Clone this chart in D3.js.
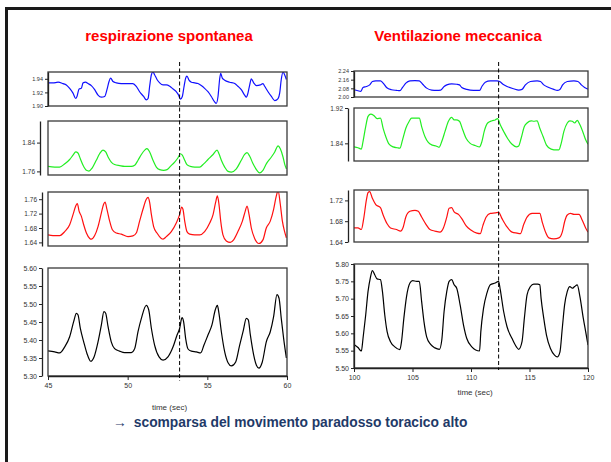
<!DOCTYPE html>
<html>
<head>
<meta charset="utf-8">
<script src="https://cdn.jsdelivr.net/npm/d3@7/dist/d3.min.js"></script>
<style>
  html, body { margin: 0; padding: 0; background: #fff; }
  svg { display: block; font-family: "Liberation Sans", Arial, sans-serif; }
</style>
</head>
<body>
<svg id="chart" width="611" height="462"></svg>
<script>
// ---- Signals: [time (s), value] ----
// Spontaneous breathing, 45-60 s
const spontBlue = [[45.00,1.934],[45.31,1.934],[45.63,1.935],[45.94,1.933],[46.15,1.931],[46.36,1.926],[46.57,1.919],[46.74,1.911],[46.82,1.914],[46.95,1.925],[47.09,1.926],[47.20,1.934],[47.36,1.935],[47.51,1.933],[47.72,1.930],[47.93,1.924],[48.14,1.916],[48.35,1.913],[48.56,1.914],[48.70,1.924],[48.83,1.936],[48.93,1.941],[49.08,1.936],[49.29,1.934],[49.60,1.933],[50.02,1.933],[50.33,1.933],[50.54,1.929],[50.75,1.921],[51.00,1.914],[51.17,1.909],[51.28,1.911],[51.38,1.929],[51.49,1.946],[51.59,1.950],[51.69,1.946],[51.84,1.939],[52.01,1.934],[52.22,1.931],[52.43,1.931],[52.64,1.929],[52.85,1.925],[53.05,1.921],[53.20,1.916],[53.31,1.910],[53.43,1.914],[53.54,1.929],[53.64,1.941],[53.72,1.944],[53.85,1.938],[54.00,1.935],[54.21,1.934],[54.41,1.933],[54.62,1.930],[54.83,1.926],[55.04,1.921],[55.25,1.914],[55.46,1.906],[55.56,1.904],[55.67,1.914],[55.77,1.939],[55.84,1.948],[55.94,1.941],[56.09,1.938],[56.40,1.935],[56.72,1.933],[56.92,1.929],[57.13,1.924],[57.34,1.916],[57.45,1.913],[57.55,1.919],[57.66,1.931],[57.76,1.940],[57.91,1.934],[58.08,1.930],[58.33,1.931],[58.49,1.933],[58.60,1.929],[58.81,1.921],[59.02,1.914],[59.23,1.908],[59.44,1.911],[59.54,1.919],[59.64,1.939],[59.75,1.950],[59.85,1.946],[59.96,1.939]];
const spontGreen = [[45.00,1.774],[45.42,1.772],[45.73,1.772],[46.05,1.781],[46.36,1.793],[46.57,1.805],[46.74,1.814],[46.88,1.811],[47.03,1.795],[47.20,1.777],[47.41,1.763],[47.57,1.761],[47.78,1.770],[48.03,1.791],[48.24,1.809],[48.45,1.819],[48.62,1.814],[48.77,1.800],[48.97,1.786],[49.18,1.779],[49.50,1.776],[49.81,1.774],[50.23,1.774],[50.44,1.777],[50.65,1.791],[50.86,1.807],[51.07,1.819],[51.21,1.823],[51.38,1.814],[51.59,1.791],[51.80,1.772],[52.01,1.765],[52.26,1.763],[52.47,1.765],[52.68,1.774],[52.95,1.786],[53.16,1.798],[53.31,1.809],[53.43,1.805],[53.58,1.791],[53.72,1.779],[53.93,1.774],[54.21,1.772],[54.52,1.772],[54.77,1.781],[55.04,1.793],[55.36,1.807],[55.61,1.819],[55.73,1.809],[55.88,1.791],[56.09,1.772],[56.30,1.760],[56.51,1.758],[56.82,1.767],[57.13,1.791],[57.34,1.807],[57.49,1.812],[57.66,1.802],[57.87,1.781],[58.08,1.765],[58.28,1.756],[58.49,1.763],[58.70,1.781],[59.02,1.800],[59.23,1.814],[59.44,1.831],[59.58,1.823],[59.75,1.800],[59.85,1.781],[59.96,1.767]];
const spontRed = [[45.00,1.661],[45.31,1.659],[45.73,1.659],[46.05,1.670],[46.36,1.689],[46.57,1.717],[46.74,1.741],[46.84,1.748],[46.95,1.727],[47.09,1.713],[47.24,1.689],[47.41,1.666],[47.62,1.651],[47.72,1.649],[47.93,1.659],[48.14,1.684],[48.35,1.722],[48.49,1.746],[48.58,1.752],[48.70,1.732],[48.87,1.699],[49.04,1.675],[49.29,1.666],[49.60,1.663],[50.02,1.656],[50.33,1.658],[50.54,1.666],[50.75,1.699],[50.96,1.732],[51.17,1.760],[51.28,1.765],[51.38,1.751],[51.49,1.717],[51.63,1.684],[51.84,1.666],[52.11,1.651],[52.22,1.649],[52.43,1.656],[52.74,1.670],[53.05,1.694],[53.26,1.717],[53.39,1.738],[53.47,1.732],[53.58,1.699],[53.72,1.670],[53.89,1.663],[54.21,1.661],[54.52,1.661],[54.83,1.670],[55.15,1.694],[55.36,1.717],[55.52,1.751],[55.63,1.769],[55.73,1.746],[55.84,1.699],[55.98,1.661],[56.19,1.644],[56.44,1.640],[56.65,1.647],[56.92,1.670],[57.20,1.699],[57.38,1.727],[57.49,1.741],[57.62,1.717],[57.76,1.680],[57.97,1.651],[58.24,1.637],[58.49,1.647],[58.70,1.680],[58.95,1.699],[59.16,1.732],[59.33,1.769],[59.44,1.784],[59.58,1.746],[59.71,1.699],[59.85,1.670],[59.96,1.653]];
const spontBlack = [[45.00,5.370],[45.42,5.367],[45.73,5.364],[46.05,5.381],[46.36,5.409],[46.61,5.451],[46.78,5.474],[46.88,5.470],[47.03,5.432],[47.24,5.395],[47.45,5.362],[47.68,5.341],[47.89,5.353],[48.14,5.395],[48.35,5.442],[48.51,5.479],[48.62,5.474],[48.77,5.437],[48.97,5.395],[49.18,5.376],[49.50,5.369],[49.81,5.365],[50.23,5.365],[50.44,5.376],[50.65,5.423],[50.86,5.460],[51.17,5.496],[51.32,5.484],[51.49,5.432],[51.69,5.386],[51.97,5.353],[52.22,5.344],[52.53,5.353],[52.85,5.381],[53.10,5.414],[53.26,5.432],[53.41,5.462],[53.51,5.451],[53.64,5.404],[53.79,5.375],[54.00,5.369],[54.31,5.367],[54.58,5.364],[54.79,5.386],[55.04,5.414],[55.29,5.442],[55.50,5.484],[55.63,5.496],[55.73,5.474],[55.88,5.423],[56.09,5.367],[56.30,5.337],[56.51,5.328],[56.78,5.339],[57.03,5.386],[57.24,5.423],[57.45,5.460],[57.57,5.456],[57.70,5.414],[57.91,5.358],[58.08,5.330],[58.24,5.322],[58.45,5.339],[58.70,5.395],[58.95,5.423],[59.16,5.465],[59.37,5.526],[59.50,5.516],[59.64,5.460],[59.79,5.404],[59.96,5.350]];

// Mechanical ventilation, 100-120 s
const ventBlue = [[100.00,2.067],[100.34,2.058],[100.57,2.052],[100.77,2.088],[101.06,2.097],[101.34,2.112],[101.57,2.143],[101.86,2.149],[102.26,2.149],[102.49,2.128],[102.78,2.088],[103.20,2.067],[103.63,2.061],[103.92,2.058],[104.15,2.088],[104.43,2.128],[104.78,2.149],[105.21,2.152],[105.58,2.149],[105.87,2.118],[106.21,2.082],[106.64,2.064],[107.07,2.061],[107.41,2.064],[107.70,2.097],[107.93,2.112],[108.35,2.122],[108.78,2.118],[109.01,2.112],[109.21,2.088],[109.64,2.070],[110.21,2.061],[110.73,2.061],[110.93,2.097],[111.22,2.137],[111.65,2.149],[112.22,2.149],[112.45,2.143],[112.73,2.118],[113.08,2.097],[113.65,2.076],[114.08,2.064],[114.36,2.070],[114.65,2.112],[115.08,2.143],[115.65,2.149],[115.94,2.143],[116.22,2.112],[116.65,2.088],[117.08,2.070],[117.37,2.061],[117.60,2.070],[117.83,2.112],[118.23,2.143],[118.80,2.149],[119.14,2.143],[119.43,2.112],[119.71,2.088],[120.00,2.073]];
const ventGreen = [[100.00,1.832],[100.34,1.830],[100.63,1.827],[100.77,1.844],[101.00,1.878],[101.20,1.901],[101.43,1.906],[101.69,1.903],[101.97,1.896],[102.26,1.897],[102.49,1.874],[102.72,1.855],[103.00,1.838],[103.35,1.832],[103.69,1.830],[103.92,1.829],[104.15,1.848],[104.43,1.874],[104.72,1.890],[104.92,1.897],[105.21,1.897],[105.58,1.897],[105.78,1.878],[106.07,1.855],[106.35,1.842],[106.70,1.836],[107.01,1.834],[107.27,1.831],[107.50,1.844],[107.78,1.867],[108.07,1.890],[108.35,1.899],[108.56,1.893],[108.73,1.893],[109.01,1.890],[109.30,1.870],[109.59,1.851],[109.93,1.840],[110.36,1.835],[110.73,1.832],[110.93,1.844],[111.13,1.867],[111.42,1.886],[111.79,1.891],[112.07,1.893],[112.27,1.896],[112.50,1.882],[112.79,1.867],[113.13,1.851],[113.51,1.838],[113.88,1.832],[114.08,1.834],[114.28,1.851],[114.56,1.878],[114.79,1.886],[115.14,1.891],[115.36,1.890],[115.65,1.891],[115.88,1.874],[116.17,1.855],[116.45,1.836],[116.85,1.827],[117.31,1.825],[117.51,1.825],[117.71,1.840],[117.94,1.867],[118.23,1.886],[118.45,1.891],[118.66,1.890],[118.86,1.886],[119.08,1.892],[119.31,1.882],[119.60,1.863],[119.80,1.848],[120.00,1.838]];
const ventRed = [[100.00,1.667],[100.34,1.667],[100.63,1.664],[100.83,1.685],[101.06,1.721],[101.20,1.735],[101.34,1.737],[101.57,1.724],[101.86,1.712],[102.26,1.706],[102.49,1.692],[102.83,1.675],[103.12,1.667],[103.63,1.664],[103.98,1.661],[104.21,1.669],[104.43,1.688],[104.78,1.699],[105.21,1.701],[105.49,1.699],[105.78,1.688],[106.15,1.674],[106.49,1.664],[106.92,1.661],[107.35,1.659],[107.64,1.667],[107.93,1.688],[108.13,1.705],[108.35,1.706],[108.56,1.698],[108.93,1.693],[109.21,1.685],[109.59,1.671],[109.99,1.663],[110.50,1.657],[110.79,1.656],[111.02,1.672],[111.30,1.688],[111.65,1.695],[112.07,1.696],[112.36,1.697],[112.65,1.685],[113.08,1.669],[113.51,1.659],[113.94,1.657],[114.22,1.656],[114.51,1.674],[114.79,1.688],[115.22,1.695],[115.71,1.695],[115.88,1.695],[116.08,1.679],[116.37,1.659],[116.65,1.648],[117.08,1.646],[117.51,1.648],[117.80,1.659],[118.00,1.679],[118.23,1.692],[118.51,1.695],[118.80,1.693],[119.23,1.693],[119.51,1.682],[119.80,1.667],[120.00,1.659]];
const ventBlack = [[100.00,5.568],[100.34,5.559],[100.63,5.549],[100.77,5.585],[101.00,5.653],[101.20,5.721],[101.40,5.761],[101.57,5.781],[101.77,5.769],[101.97,5.757],[102.26,5.755],[102.43,5.721],[102.63,5.653],[102.83,5.605],[103.12,5.576],[103.49,5.561],[103.92,5.553],[104.06,5.576],[104.26,5.643],[104.49,5.706],[104.78,5.745],[105.01,5.752],[105.35,5.750],[105.58,5.750],[105.78,5.692],[105.98,5.634],[106.21,5.590],[106.55,5.568],[106.92,5.558],[107.30,5.554],[107.50,5.580],[107.70,5.663],[107.93,5.721],[108.13,5.750],[108.35,5.755],[108.56,5.740],[108.78,5.730],[109.07,5.682],[109.36,5.624],[109.64,5.585],[110.07,5.561],[110.73,5.549],[110.84,5.605],[111.07,5.672],[111.36,5.716],[111.65,5.740],[112.07,5.745],[112.36,5.750],[112.50,5.726],[112.79,5.663],[113.08,5.619],[113.51,5.585],[113.88,5.561],[114.08,5.554],[114.36,5.576],[114.56,5.643],[114.79,5.711],[115.08,5.735],[115.36,5.742],[115.71,5.742],[115.88,5.740],[115.99,5.701],[116.22,5.643],[116.45,5.595],[116.79,5.556],[117.14,5.537],[117.37,5.532],[117.60,5.546],[117.80,5.614],[118.00,5.682],[118.23,5.721],[118.45,5.735],[118.66,5.730],[118.86,5.735],[119.08,5.740],[119.31,5.706],[119.60,5.643],[119.80,5.605],[120.00,5.566]];

// ---- Axes ----
const spontTimeDomain = [45, 60];
const ventTimeDomain = [100, 120];
const spontTimeTicks = [45, 50, 55, 60];
const ventTimeTicks = [100, 105, 110, 115, 120];

const spontBlueTicks = [1.90, 1.92, 1.94];
const spontGreenTicks = [1.76, 1.84];
const spontRedTicks = [1.64, 1.68, 1.72, 1.76];
const spontBlackTicks = [5.30, 5.35, 5.40, 5.45, 5.50, 5.55, 5.60];
const ventBlueTicks = [2.00, 2.08, 2.16, 2.24];
const ventGreenTicks = [1.84, 1.92];
const ventRedTicks = [1.64, 1.68, 1.72];
const ventBlackTicks = [5.50, 5.55, 5.60, 5.65, 5.70, 5.75, 5.80];

// Instants marking the transition (dashed markers)
const spontMarker = 53.26;
const ventMarker = 112.36;

// ---- Texts ----
const titles = ["respirazione spontanea", "Ventilazione meccanica"];
const timeLabel = "time (sec)";
const footnote = "scomparsa del movimento paradosso toracico alto";

// ---- Layout ----
const svg = d3.select("#chart");

// slide frame (top and left edges)
svg.append("path")
  .attr("d", "M6.5,462 L6.5,8.5 L611,8.5")
  .attr("fill", "none").attr("stroke", "#1a1a1a").attr("stroke-width", 3);

const columns = [
  { title: titles[0], cx: 169, x0: 48, x1: 287, tDomain: spontTimeDomain, tTicks: spontTimeTicks,
    marker: spontMarker, markerTop: 62, markerBottom: 381, axisBottom: 376, labelY: 410,
    panels: [
      { data: spontBlue,  color: "#1010ff", top: 72,  bottom: 106, domain: [1.90, 1.95], ticks: spontBlueTicks,  axisX: 48, fs: 5.5 },
      { data: spontGreen, color: "#22ee22", top: 121, bottom: 175, domain: [1.75, 1.90], ticks: spontGreenTicks, axisX: 40, fs: 6.5 },
      { data: spontRed,   color: "#ff1010", top: 192, bottom: 246, domain: [1.63, 1.78], ticks: spontRedTicks,   axisX: 42, fs: 6.5 },
      { data: spontBlack, color: "#000000", top: 268, bottom: 376, domain: [5.30, 5.60], ticks: spontBlackTicks, axisX: 42, fs: 7 }
    ] },
  { title: titles[1], cx: 458, x0: 354, x1: 588, tDomain: ventTimeDomain, tTicks: ventTimeTicks,
    marker: ventMarker, markerTop: 62, markerBottom: 370, axisBottom: 368, labelY: 395,
    panels: [
      { data: ventBlue,  color: "#1010ff", top: 71,  bottom: 97,  domain: [2.00, 2.24], ticks: ventBlueTicks,  axisX: 354, fs: 5.5 },
      { data: ventGreen, color: "#22ee22", top: 108, bottom: 161, domain: [1.80, 1.92], ticks: ventGreenTicks, axisX: 348, fs: 6.5 },
      { data: ventRed,   color: "#ff1010", top: 190, bottom: 242, domain: [1.64, 1.74], ticks: ventRedTicks,   axisX: 348, fs: 7 },
      { data: ventBlack, color: "#000000", top: 264, bottom: 368, domain: [5.50, 5.80], ticks: ventBlackTicks, axisX: 354, fs: 7 }
    ] }
];

const fmt = d3.format(".2f");

columns.forEach((col, ci) => {
  const g = svg.append("g");
  const x = d3.scaleLinear().domain(col.tDomain).range([col.x0, col.x1]);

  g.append("text")
    .attr("x", col.cx).attr("y", 41)
    .attr("text-anchor", "middle")
    .attr("font-size", 15).attr("font-weight", "bold")
    .attr("fill", "#ff0000")
    .text(col.title);

  col.panels.forEach((p, pi) => {
    const y = d3.scaleLinear().domain(p.domain).range([p.bottom, p.top]);
    const clipId = `clip-${ci}-${pi}`;
    g.append("clipPath").attr("id", clipId)
      .append("rect")
      .attr("x", col.x0).attr("y", p.top)
      .attr("width", col.x1 - col.x0).attr("height", p.bottom - p.top);

    const line = d3.line().x(d => x(d[0])).y(d => y(d[1])).curve(d3.curveMonotoneX);
    g.append("path")
      .datum(p.data)
      .attr("clip-path", `url(#${clipId})`)
      .attr("fill", "none")
      .attr("stroke", p.color)
      .attr("stroke-width", 1.2)
      .attr("d", line);

    // plot-area frame
    g.append("rect")
      .attr("x", col.x0).attr("y", p.top)
      .attr("width", col.x1 - col.x0).attr("height", p.bottom - p.top)
      .attr("fill", "none").attr("stroke", "#3a3a3a").attr("stroke-width", 1.3);

    // value axis
    const ya = g.append("g")
      .attr("transform", `translate(${p.axisX},0)`)
      .call(d3.axisLeft(y).tickValues(p.ticks).tickFormat(fmt).tickSize(3).tickSizeOuter(0).tickPadding(2));
    ya.select(".domain").attr("stroke", "#222").attr("stroke-width", 1.3);
    ya.selectAll(".tick line").attr("stroke", "#222").attr("stroke-width", 1);
    ya.selectAll("text").attr("font-size", p.fs).attr("fill", "#333").attr("font-family", "'Liberation Sans', Arial, sans-serif");
  });

  // time axis
  const xa = g.append("g")
    .attr("transform", `translate(0,${col.axisBottom})`)
    .call(d3.axisBottom(x).tickValues(col.tTicks).tickSize(4).tickSizeOuter(0).tickPadding(3));
  xa.select(".domain").attr("stroke", "#222").attr("stroke-width", 1.3);
  xa.selectAll(".tick line").attr("stroke", "#222");
  xa.selectAll("text").attr("font-size", 7).attr("fill", "#333").attr("font-family", "'Liberation Sans', Arial, sans-serif");

  g.append("text")
    .attr("x", (col.x0 + col.x1) / 2 + (ci === 0 ? 2 : 4)).attr("y", col.labelY)
    .attr("text-anchor", "middle")
    .attr("font-size", 8).attr("fill", "#333")
    .text(timeLabel);

  // dashed marker
  g.append("line")
    .attr("x1", x(col.marker)).attr("x2", x(col.marker))
    .attr("y1", col.markerTop).attr("y2", col.markerBottom)
    .attr("stroke", "#000").attr("stroke-width", 1)
    .attr("stroke-dasharray", "4,2.5");
});

// footnote
const foot = svg.append("text")
  .attr("x", 113).attr("y", 427)
  .attr("font-size", 13.8).attr("fill", "#1f3a68");
foot.append("tspan").attr("font-weight", "normal").text("\u2192");
foot.append("tspan").attr("font-weight", "bold").attr("dx", 7).text(footnote);
</script>
</body>
</html>
